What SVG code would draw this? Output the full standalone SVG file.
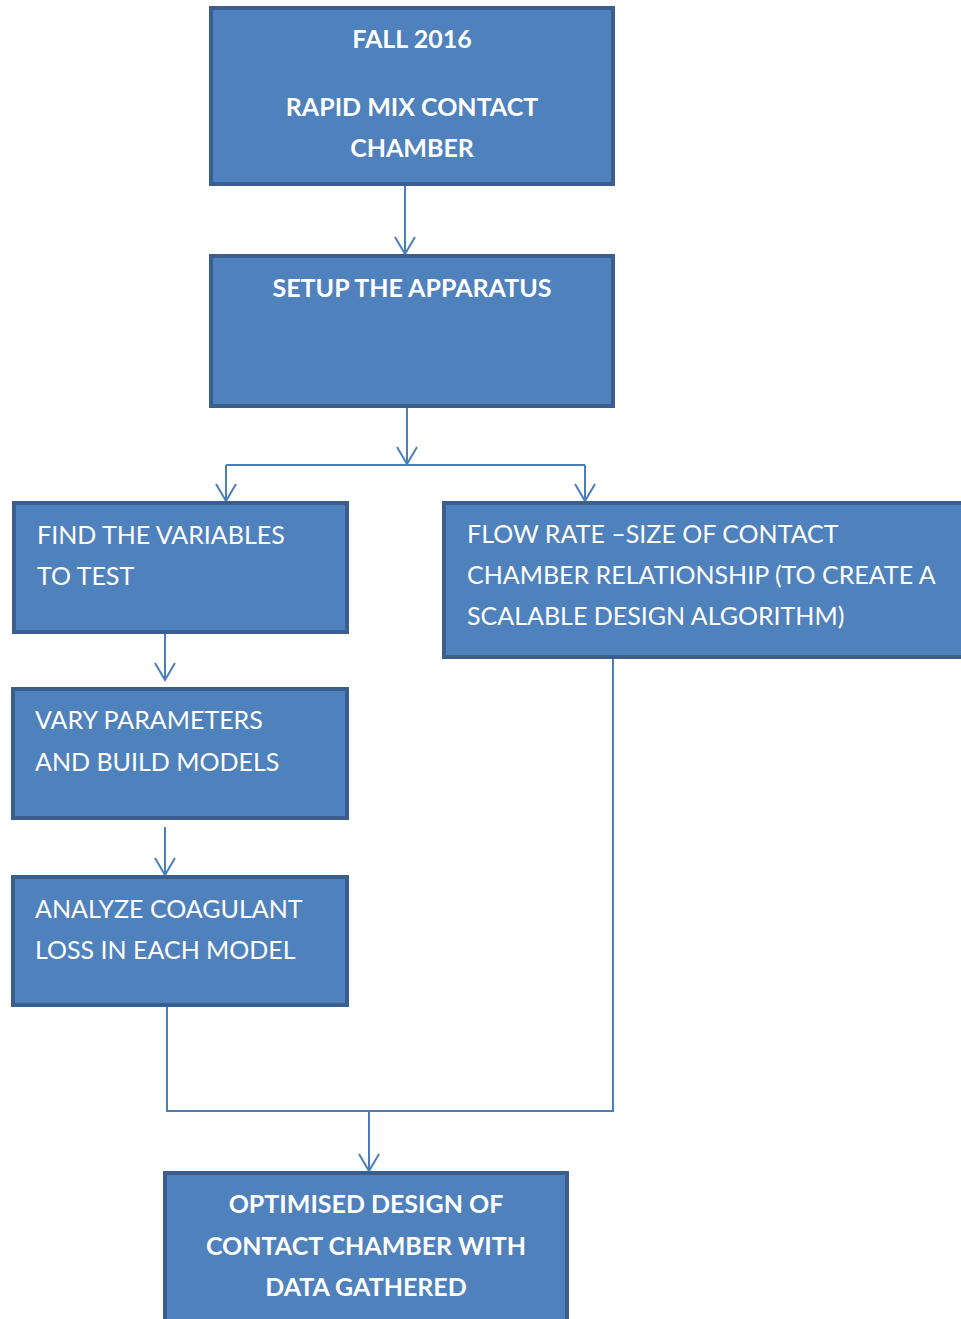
<svg xmlns="http://www.w3.org/2000/svg" width="961" height="1319" viewBox="0 0 961 1319">
<defs>
<style>
.box{fill:#4F81BD;stroke:#3A5F8E;stroke-width:4}
.b{font-family:Lato,"Open Sans",sans-serif;font-weight:bold;font-size:25px;fill:#fff;text-anchor:middle}
.r{font-family:Lato,"Open Sans",sans-serif;font-size:25px;fill:#fff}
.c{fill:none;stroke:#4A7EBB;stroke-width:2}
</style>
<marker id="v" viewBox="0 0 20 24" refX="18" refY="12" markerWidth="20" markerHeight="24" markerUnits="userSpaceOnUse" orient="auto">
<path d="M1,2 L18,12 L1,22" fill="none" stroke="#4A7EBB" stroke-width="2"/>
</marker>
</defs>
<rect width="961" height="1319" fill="#fff"/>
<g id="connectors">
<line class="c" x1="405" y1="186" x2="405" y2="254" marker-end="url(#v)"/>
<line class="c" x1="407" y1="408" x2="407" y2="464" marker-end="url(#v)"/>
<line class="c" x1="226" y1="465" x2="585" y2="465"/>
<line class="c" x1="226" y1="465" x2="226" y2="501" marker-end="url(#v)"/>
<line class="c" x1="585" y1="465" x2="585" y2="501" marker-end="url(#v)"/>
<line class="c" x1="165" y1="630" x2="165" y2="680" marker-end="url(#v)"/>
<line class="c" x1="165" y1="827" x2="165" y2="875" marker-end="url(#v)"/>
<polyline class="c" points="167,1007 167,1111 613,1111 613,659"/>
<line class="c" x1="369" y1="1111" x2="369" y2="1171" marker-end="url(#v)"/>
</g>
<g id="n1">
<rect class="box" x="211" y="8" width="402" height="176"/>
<text class="b" x="412" y="48">FALL 2016</text>
<text class="b" x="412" y="116">RAPID MIX CONTACT</text>
<text class="b" x="412" y="157">CHAMBER</text>
</g>
<g id="n2">
<rect class="box" x="211" y="256" width="402" height="150"/>
<text class="b" x="412" y="297">SETUP THE APPARATUS</text>
</g>
<g id="n3">
<rect class="box" x="14" y="503" width="333" height="129"/>
<text class="r" x="37" y="544">FIND THE VARIABLES</text>
<text class="r" x="37" y="585">TO TEST</text>
</g>
<g id="n4">
<rect class="box" x="13" y="689" width="334" height="129"/>
<text class="r" x="35" y="729">VARY PARAMETERS</text>
<text class="r" x="35" y="771">AND BUILD MODELS</text>
</g>
<g id="n5">
<rect class="box" x="13" y="877" width="334" height="128"/>
<text class="r" x="35" y="918">ANALYZE COAGULANT</text>
<text class="r" x="35" y="959">LOSS IN EACH MODEL</text>
</g>
<g id="n6">
<rect class="box" x="444" y="503" width="530" height="154"/>
<text class="r" x="467" y="543">FLOW RATE –SIZE OF CONTACT</text>
<text class="r" x="467" y="584">CHAMBER RELATIONSHIP (TO CREATE A</text>
<text class="r" x="467" y="625">SCALABLE DESIGN ALGORITHM)</text>
</g>
<g id="n7">
<rect class="box" x="165" y="1173" width="402" height="160"/>
<text class="b" x="366" y="1213">OPTIMISED DESIGN OF</text>
<text class="b" x="366" y="1255">CONTACT CHAMBER WITH</text>
<text class="b" x="366" y="1296">DATA GATHERED</text>
</g>
</svg>
